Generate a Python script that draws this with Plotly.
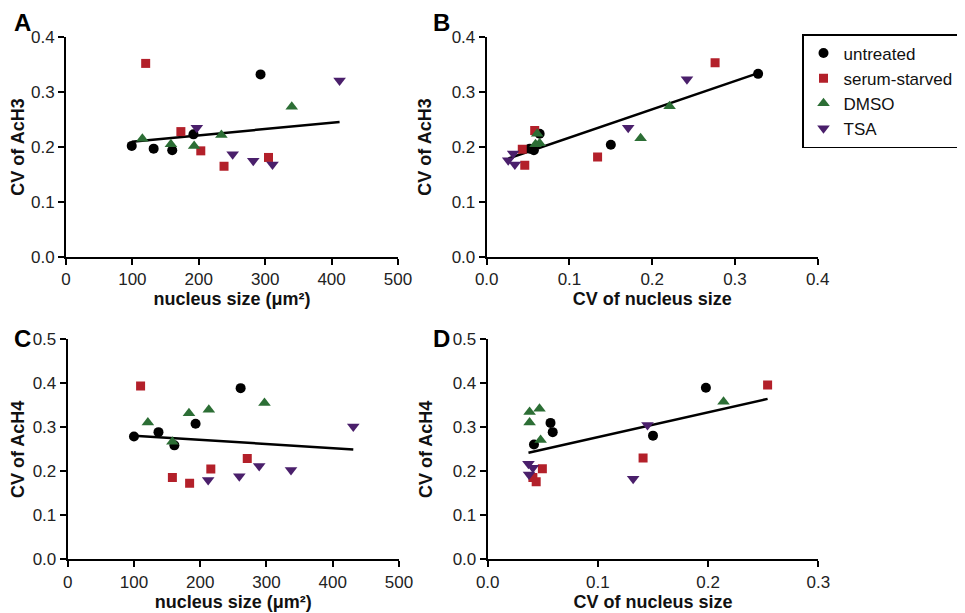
import numpy as np
import plotly.graph_objects as go

groups = ["untreated", "serum-starved", "DMSO", "TSA"]
colors = ["#000000", "#B3202A", "#2C6E35", "#4A1F6B"]
symbols = ["circle", "square", "triangle-up", "triangle-down"]
sizes = [10, 9, 11, 11]

# Panel A: nucleus size vs CV of AcH3
a_x = {"untreated": [99, 132, 160, 192, 293],
       "serum-starved": [120, 173, 203, 238, 305],
       "DMSO": [115, 158, 193, 234, 340],
       "TSA": [197, 251, 282, 311, 412]}
a_y = {"untreated": [0.202, 0.197, 0.194, 0.223, 0.332],
       "serum-starved": [0.352, 0.228, 0.193, 0.165, 0.181],
       "DMSO": [0.215, 0.205, 0.202, 0.222, 0.273],
       "TSA": [0.235, 0.187, 0.175, 0.168, 0.321]}
# Panel B: CV of nucleus size vs CV of AcH3
b_x = {"untreated": [0.052, 0.057, 0.150, 0.064, 0.328],
       "serum-starved": [0.276, 0.058, 0.043, 0.046, 0.134],
       "DMSO": [0.186, 0.059, 0.064, 0.061, 0.221],
       "TSA": [0.171, 0.032, 0.026, 0.034, 0.242]}
b_y = {"untreated": [0.197, 0.194, 0.204, 0.224, 0.333],
       "serum-starved": [0.353, 0.230, 0.196, 0.167, 0.182],
       "DMSO": [0.216, 0.205, 0.207, 0.224, 0.274],
       "TSA": [0.235, 0.188, 0.176, 0.168, 0.323]}
# Panel C: nucleus size vs CV of AcH4
c_x = {"untreated": [100, 137, 161, 193, 261],
       "serum-starved": [110, 158, 184, 216, 271],
       "DMSO": [121, 158, 183, 213, 297],
       "TSA": [212, 259, 289, 337, 431]}
c_y = {"untreated": [0.279, 0.289, 0.259, 0.308, 0.389],
       "serum-starved": [0.394, 0.186, 0.173, 0.205, 0.229],
       "DMSO": [0.311, 0.267, 0.332, 0.340, 0.355],
       "TSA": [0.180, 0.189, 0.212, 0.203, 0.302]}
# Panel D: CV of nucleus size vs CV of AcH4
d_x = {"untreated": [0.150, 0.059, 0.042, 0.057, 0.198],
       "serum-starved": [0.254, 0.041, 0.044, 0.0496, 0.141],
       "DMSO": [0.038, 0.048, 0.038, 0.047, 0.214],
       "TSA": [0.132, 0.0375, 0.037, 0.041, 0.145]}
d_y = {"untreated": [0.281, 0.289, 0.261, 0.310, 0.390],
       "serum-starved": [0.396, 0.186, 0.176, 0.206, 0.230],
       "DMSO": [0.311, 0.271, 0.335, 0.342, 0.358],
       "TSA": [0.183, 0.193, 0.217, 0.208, 0.305]}

panels = [("A", a_x, a_y, "x", "y"), ("B", b_x, b_y, "x2", "y2"),
          ("C", c_x, c_y, "x3", "y3"), ("D", d_x, d_y, "x4", "y4")]

fig = go.Figure()
for pi, (letter, px, py, xa, ya) in enumerate(panels):
    allx = np.concatenate([px[g] for g in groups])
    ally = np.concatenate([py[g] for g in groups])
    k, b = np.polyfit(allx, ally, 1)
    lx = np.array([allx.min(), allx.max()])
    fig.add_trace(go.Scatter(x=lx, y=k * lx + b, mode="lines",
                             line=dict(color="black", width=2.5),
                             showlegend=False, xaxis=xa, yaxis=ya, hoverinfo="skip"))
    for g, c, s, sz in zip(groups, colors, symbols, sizes):
        fig.add_trace(go.Scatter(x=px[g], y=py[g], mode="markers", name=g,
                                 legendgroup=g, showlegend=(pi == 1),
                                 marker=dict(color=c, symbol=s, size=sz, line=dict(width=0)),
                                 xaxis=xa, yaxis=ya))

# page body has an 8px margin; figure coordinates are page coordinates minus 8
W, H = 957, 605
OFF = 8
def xdom(a, b):
    return [(a - OFF) / W, (b - OFF) / W]
def ydom(bottom, top):
    return [1 - (bottom - OFF) / H, 1 - (top - OFF) / H]

FONT = "Liberation Sans, Arial, Helvetica"
axis_common = dict(showgrid=False, zeroline=False, showline=True, linecolor="black",
                   linewidth=2, ticks="outside", ticklen=6, tickwidth=2, tickcolor="black",
                   tickfont=dict(family=FONT, size=17, color="#222"),
                   title_font=dict(family=FONT, size=18, color="#111"),
                   automargin=False)

layout = dict(width=W, height=H, margin=dict(l=0, r=0, t=0, b=0),
              plot_bgcolor="white", paper_bgcolor="white",
              font=dict(family=FONT))

xt = "<b>nucleus size (μm²)</b>"
xcv = "<b>CV of nucleus size</b>"
XS = 4
layout["xaxis"] = dict(axis_common, domain=xdom(66, 398), range=[0, 500], dtick=100,
                       anchor="y", title=dict(text=xt, standoff=XS))
layout["yaxis"] = dict(axis_common, domain=ydom(257, 37), range=[0, 0.4], dtick=0.1,
                       tickformat=".1f", anchor="x", title=dict(text="<b>CV of AcH3</b>"))
layout["xaxis2"] = dict(axis_common, domain=xdom(486.7, 817.7), range=[0, 0.4], dtick=0.1,
                        tickformat=".1f", anchor="y2", title=dict(text=xcv, standoff=XS))
layout["yaxis2"] = dict(axis_common, domain=ydom(257, 37), range=[0, 0.4], dtick=0.1,
                        tickformat=".1f", anchor="x2", title=dict(text="<b>CV of AcH3</b>"))
layout["xaxis3"] = dict(axis_common, domain=xdom(67.7, 399), range=[0, 500], dtick=100,
                        anchor="y3", title=dict(text=xt, standoff=XS))
layout["yaxis3"] = dict(axis_common, domain=ydom(559.3, 339.3), range=[0, 0.5], dtick=0.1,
                        tickformat=".1f", anchor="x3", title=dict(text="<b>CV of AcH4</b>"))
layout["xaxis4"] = dict(axis_common, domain=xdom(487.7, 818.3), range=[0, 0.3], dtick=0.1,
                        tickformat=".1f", anchor="y4", title=dict(text=xcv, standoff=XS))
layout["yaxis4"] = dict(axis_common, domain=ydom(559.3, 339.3), range=[0, 0.5], dtick=0.1,
                        tickformat=".1f", anchor="x4", title=dict(text="<b>CV of AcH4</b>"))

layout["legend"] = dict(x=(802 - OFF) / W, y=1 - (34 - OFF) / H, xanchor="left", yanchor="top",
                        bordercolor="black", borderwidth=1.5, bgcolor="white",
                        font=dict(family=FONT, size=17, color="#111"),
                        tracegroupgap=0, itemwidth=30)

annos = []
for letter, xp, ytop in [("A", 22, 8), ("B", 441, 8), ("C", 22, 324), ("D", 441, 324)]:
    annos.append(dict(text="<b>%s</b>" % letter, x=(xp - OFF) / W, y=1 - (ytop - OFF) / H,
                      xref="paper", yref="paper", borderpad=0,
                      showarrow=False, xanchor="center", yanchor="top",
                      font=dict(family=FONT, size=24, color="black")))
layout["annotations"] = annos

fig.update_layout(**layout)
fig.write_html("out.html")
